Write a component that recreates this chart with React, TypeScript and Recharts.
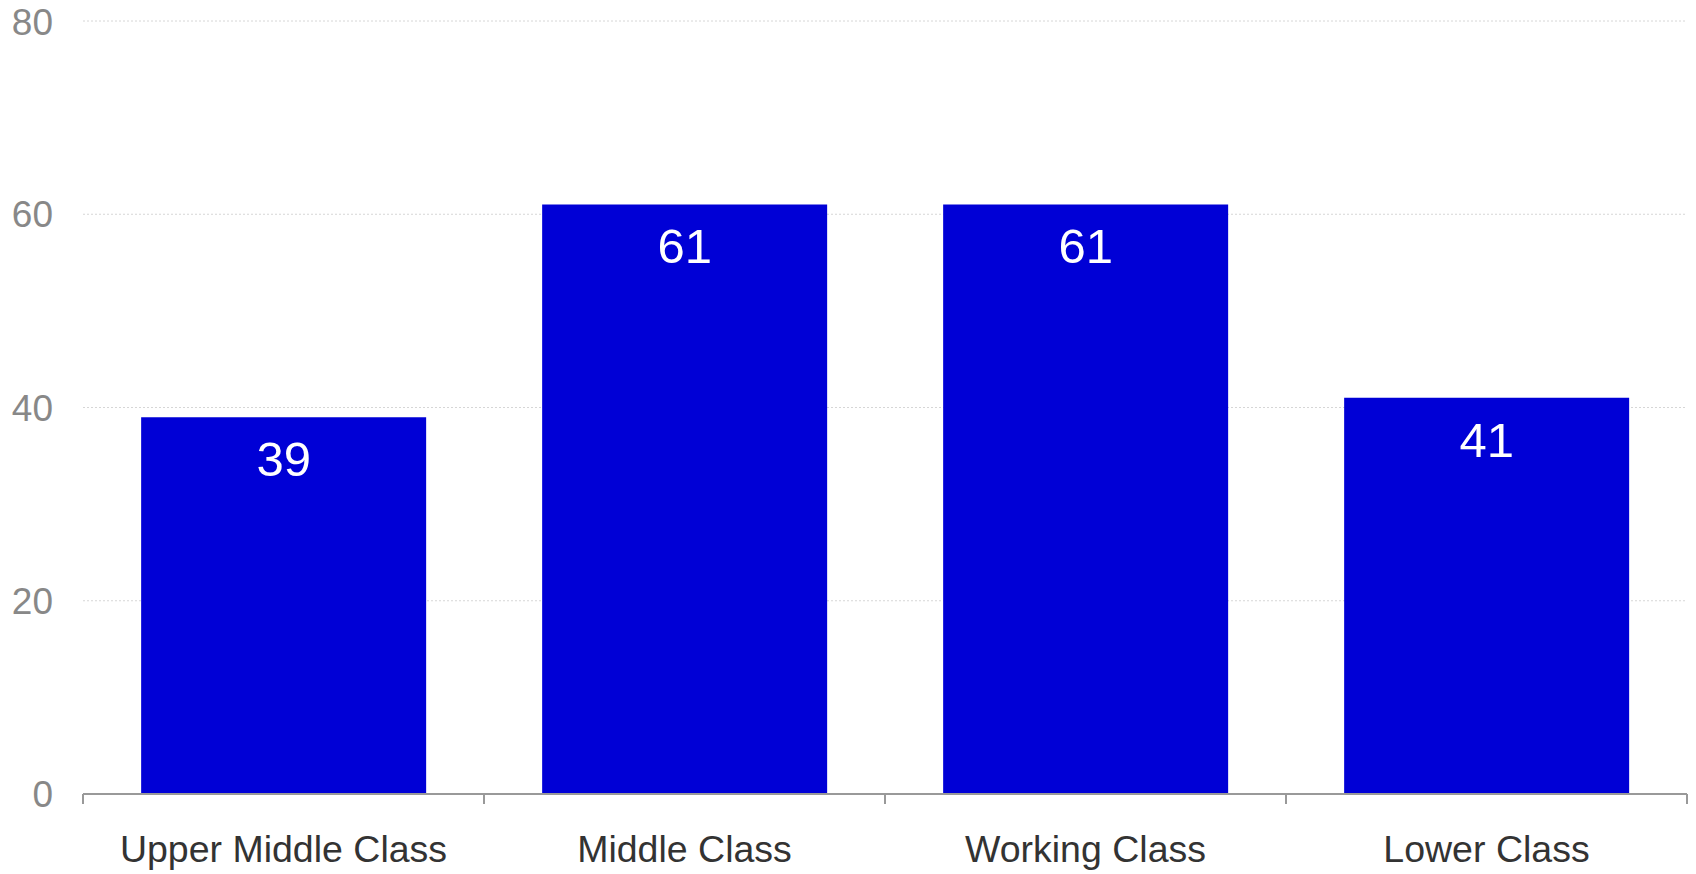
import { BarChart, Bar, XAxis, YAxis, CartesianGrid, LabelList } from 'recharts';

const categories = ['Upper Middle Class', 'Middle Class', 'Working Class', 'Lower Class'];
const values = [39, 61, 61, 41];
const yTicks = [0, 20, 40, 60, 80];

const FONT = 'Arial, "Liberation Sans", Helvetica, sans-serif';
const LABEL_GAP = 41;
const TICK_LEN = 10;

// category label plus tick marks on the band edges (offset = half the band width from the scale)
const CategoryTick = (props: any) => {
  const { x, y, payload, index, visibleTicksCount } = props;
  const half = payload?.offset ?? 0;
  const axisY = y - LABEL_GAP;
  const isLast = index === (visibleTicksCount ?? categories.length) - 1;
  return (
    <g>
      <line x1={x - half} x2={x - half} y1={axisY} y2={axisY + TICK_LEN} stroke="#999" strokeWidth={2} />
      {isLast && (
        <line x1={x + half} x2={x + half} y1={axisY} y2={axisY + TICK_LEN} stroke="#999" strokeWidth={2} />
      )}
      <text x={x} y={y} dy="0.71em" textAnchor="middle" fill="#333" fontSize={37.5} fontFamily={FONT}>
        {payload.value}
      </text>
    </g>
  );
};

export default function App() {
  const chartData = categories.map((name, i) => ({ name, value: values[i] }));

  return (
    <div style={{ position: 'absolute', left: 0, top: 0, width: 1696, height: 874, background: '#fff' }}>
      <BarChart
        width={1696}
        height={874}
        data={chartData}
        margin={{ top: 21, right: 9, left: 0, bottom: 0 }}
        barCategoryGap="14.5%"
        style={{ fontFamily: FONT }}
      >
        <CartesianGrid vertical={false} stroke="#d6d6d6" strokeDasharray="2 2" />
        <XAxis
          dataKey="name"
          height={80}
          axisLine={{ stroke: '#999', strokeWidth: 2 }}
          tickLine={false}
          tickSize={0}
          tickMargin={LABEL_GAP}
          interval={0}
          tick={CategoryTick}
        />
        <YAxis
          width={83}
          domain={[0, 80]}
          ticks={yTicks}
          axisLine={false}
          tickLine={false}
          tickSize={0}
          tickMargin={30}
          tick={{ fill: '#888', fontSize: 37, fontFamily: FONT }}
        />
        <Bar dataKey="value" fill="#0000d6" isAnimationActive={false}>
          <LabelList
            dataKey="value"
            position="insideTop"
            offset={24}
            fill="#fff"
            fontSize={49}
            fontFamily={FONT}
          />
        </Bar>
      </BarChart>
    </div>
  );
}
